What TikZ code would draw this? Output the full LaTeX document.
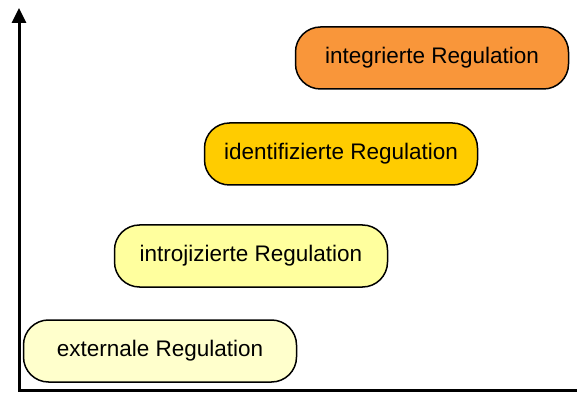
\documentclass[tikz,border=0pt]{standalone}
\usepackage{fontspec}
\setmainfont{Liberation Sans}
\usetikzlibrary{arrows.meta,positioning}
\definecolor{extcol}{RGB}{255,255,204}
\definecolor{introcol}{RGB}{255,255,158}
\definecolor{identcol}{RGB}{255,204,0}
\definecolor{integcol}{RGB}{249,150,58}
\begin{document}
\begin{tikzpicture}[x=1pt,y=1pt,node distance=98pt,reg/.style={rectangle,draw,line width=1.5pt,rounded corners=25pt,minimum width=273pt,minimum height=62pt,font=\fontsize{22.5}{26}\selectfont}]
\useasboundingbox (0,0) rectangle (577,396);

% Axes
\coordinate (origin) at (19,6);
\coordinate (ytop) at (19,388);
\coordinate (xend) at (577,6);
\draw[line width=3pt,line join=miter,{Triangle[length=15pt,width=14pt]}-] (ytop) -- (origin) -- (xend);

% Nodes
\node[reg,fill=extcol] (ext) at (160,45) {externale Regulation};
\node[reg,fill=introcol,above of=ext,xshift=91pt,yshift=-3pt] (intro) {introjizierte Regulation};
\node[reg,fill=identcol,above of=intro,xshift=90pt,yshift=4pt] (ident) {identifizierte Regulation};
\node[reg,fill=integcol,above of=ident,xshift=91pt,yshift=-2pt] (integ) {integrierte Regulation};
\end{tikzpicture}
\end{document}
